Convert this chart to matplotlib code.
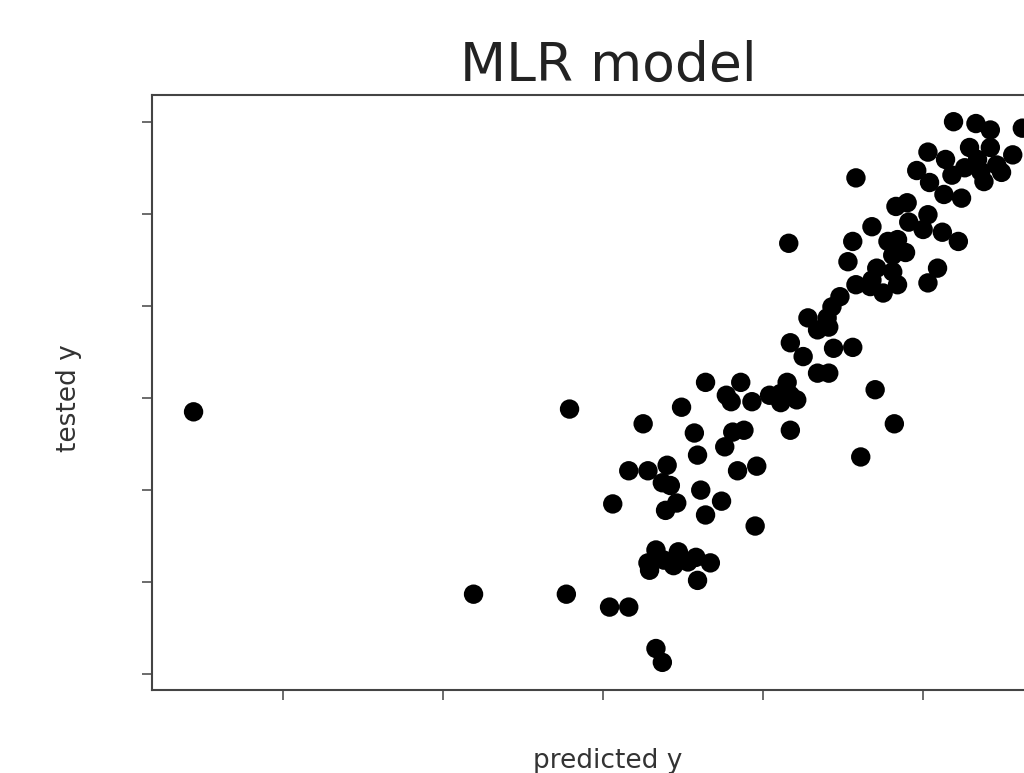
"""
Scatter of predicted vs tested y for the MLR model.
Tick labels are drawn in white (invisible on the white background), as in the source.
"""

import matplotlib
matplotlib.use("Agg")
import matplotlib.pyplot as plt
import numpy as np

# predicted y (x axis) and tested y (y axis)
predicted_y = [
    -2.56, -0.21, -0.81, -0.23, 0.04, 0.16, 0.33, 0.37, 0.06, 0.25,
    0.16, 0.28, 0.40, 0.37, 0.42, 0.39, 0.46, 0.49, 0.57, 0.59,
    0.61, 0.64, 0.74, 0.64, 0.77, 0.80, 0.86, 0.93, 0.76, 0.81,
    0.88, 0.84, 0.96, 0.95,
    0.33, 0.28, 0.29, 0.38, 0.47, 0.44, 0.58, 0.53, 0.67, 0.59,
    1.04, 1.11, 1.15, 1.17, 1.21, 1.11, 1.17, 1.17, 1.25, 1.34,
    1.41, 1.44, 1.56, 1.70, 1.82, 1.61, 1.16,
    1.28, 1.40, 1.34, 1.41, 1.43, 1.48, 1.58, 1.67, 1.75, 1.84,
    1.68, 1.71, 1.81, 1.89, 1.81, 1.78, 1.84, 1.56, 1.53, 1.68,
    1.58, 1.83, 1.90, 1.91, 2.03, 2.00, 2.12, 2.13, 2.24, 2.22,
    2.09, 2.03,
    2.19, 2.33, 2.42, 2.62, 2.03, 2.29, 2.42, 2.56, 2.14, 2.34,
    1.96, 2.04, 2.18, 2.26, 2.36, 2.38, 2.49, 2.46,
]
tested_y = [
    -0.15, -0.12, -2.13, -2.13, -2.27, -2.27, -2.72, -2.87, -1.15, -0.28,
    -0.79, -0.79, -0.73, -0.92, -0.95, -1.22, -1.14, -0.10, -0.38, -0.62,
    -1.00, -1.27, -1.12, 0.17, 0.03, -0.04, 0.17, -0.04, -0.53, -0.37,
    -0.35, -0.79, -0.74, -1.39,
    -1.65, -1.79, -1.87, -1.76, -1.67, -1.82, -1.73, -1.78, -1.79, -1.98,
    0.03, 0.05, 0.17, 0.03, -0.02, -0.05, -0.35, 0.60, 0.45, 0.27,
    0.27, 0.54, 0.55, 0.09, -0.28, -0.64, 1.68,
    0.87, 0.87, 0.74, 0.77, 0.99, 1.10, 1.23, 1.21, 1.14, 1.23,
    1.28, 1.41, 1.37, 1.58, 1.55, 1.70, 1.72, 1.70, 1.48, 1.86,
    2.39, 2.08, 2.12, 1.91, 1.99, 1.83, 1.80, 2.21, 2.17, 1.70,
    1.41, 1.25,
    3.00, 2.98, 2.91, 2.93, 2.67, 2.72, 2.72, 2.64, 2.59, 2.59,
    2.47, 2.34, 2.42, 2.50, 2.46, 2.35, 2.45, 2.53,
]
x_ticks = [-2, -1, 0, 1, 2]
y_ticks = [-3, -2, -1, 0, 1, 2, 3]

fig = plt.figure(figsize=(10.24, 7.73), dpi=100)
fig.patch.set_facecolor("white")

# axes runs past the right edge of the canvas, as in the reference crop
ax = fig.add_axes([0.1484, 0.1074, 0.8906, 0.7697])
ax.scatter(predicted_y, tested_y, s=195, color="black", edgecolors="none")

ax.set_xlim(-2.82, 2.88)
ax.set_ylim(-3.17, 3.29)
ax.set_xticks(x_ticks)
ax.set_yticks(y_ticks)
ax.tick_params(direction="out", length=7.5, width=1.1, color="#444444",
               labelcolor="white", labelsize=18)
for sp in ax.spines.values():
    sp.set_linewidth(1.5)
    sp.set_color("#444444")

ax.set_title("MLR model", fontsize=38.5, color="#222222", pad=10)
ax.set_xlabel("predicted y", fontsize=19, color="#333333")
ax.set_ylabel("tested y", fontsize=19, color="#333333")
ax.xaxis.set_label_coords(0.5, -0.097)
ax.yaxis.set_label_coords(-0.077, 0.49)

fig.savefig("out.png", dpi=100, facecolor="white")
